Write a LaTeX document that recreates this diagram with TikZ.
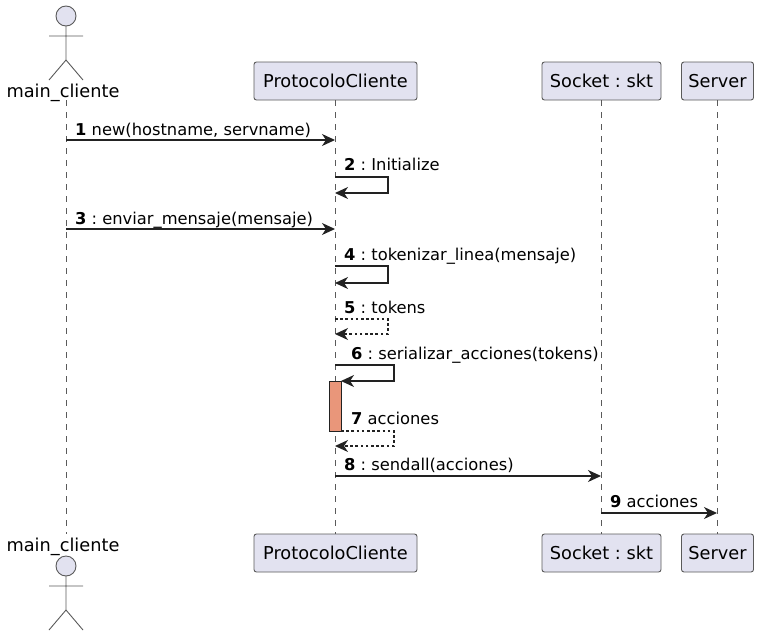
\documentclass[tikz,border=0pt]{standalone}
\usepackage{fontspec}
\setmainfont{DejaVu Sans}
\usetikzlibrary{arrows.meta}
\frenchspacing
\definecolor{partfill}{HTML}{E2E2F0}
\definecolor{partline}{HTML}{5A5A5A}
\definecolor{msgline}{HTML}{222222}
\definecolor{actfill}{HTML}{E9967A}
\tikzset{
  x=1pt,y=-1pt,
  part/.style={draw=partline,fill=partfill,rounded corners=2.5pt,line width=.9pt,minimum height=38pt,inner sep=0pt,font=\fontsize{17.75}{20}\selectfont,text=black},
  actorname/.style={inner sep=0pt,font=\fontsize{17.75}{20}\selectfont,text=black,anchor=base},
  actorline/.style={draw=partline,line width=.9pt},
  lifeline/.style={draw=partline,line width=.9pt,dash pattern=on 6pt off 6pt},
  msg/.style={draw=msgline,line width=1.15pt,-{Stealth[length=13pt,width=12pt,inset=4pt,color=msgline]}},
  ret/.style={msg,dash pattern=on 2.6pt off 2.6pt},
  lab/.style={inner sep=0pt,anchor=base west,font=\fontsize{16.3}{19}\selectfont,text=black},
  actbox/.style={draw=msgline,fill=actfill,line width=1pt,inner sep=0pt,minimum width=12pt,minimum height=50pt},
}
\newcommand{\numlab}[2]{{\bfseries #1}\ #2}
\newcommand{\stick}[2]{% x, head centre y
  \draw[actorline,fill=partfill] (#1,#2) circle[radius=10pt];
  \draw[actorline] (#1,#2+10) -- (#1,#2+44) (#1-17,#2+20) -- (#1+17,#2+20)
    (#1-17,#2+64) -- (#1,#2+44) -- (#1+17,#2+64);
}
\begin{document}
\begin{tikzpicture}
\useasboundingbox (0,0) rectangle (763,635);
\coordinate (mTop) at (66,100); \coordinate (mBot) at (66,534);
\node[part,minimum width=163pt] (pTop) at (335.5,81) {ProtocoloCliente};
\node[part,minimum width=163pt] (pBot) at (335.5,553) {ProtocoloCliente};
\node[part,minimum width=119pt] (sTop) at (601.5,81) {Socket : skt};
\node[part,minimum width=119pt] (sBot) at (601.5,553) {Socket : skt};
\node[part,minimum width=72pt] (vTop) at (717.5,81) {Server};
\node[part,minimum width=72pt] (vBot) at (717.5,553) {Server};
\draw[lifeline] (mTop) -- (mBot);
\draw[lifeline] (335,100) -- (335,534);
\draw[lifeline] (601,100) -- (601,534);
\draw[lifeline] (717,100) -- (717,534);
\stick{66}{16}
\node[actorname] (mName) at (63,97) {main\_cliente};
\node[actorname] (mNameB) at (63,551) {main\_cliente};
\stick{66}{566}
\node[actbox] (act) at (335,406) {};
\coordinate (a1) at (66,140);  \coordinate (b1) at (335,140);
\coordinate (a2) at (335,177); \coordinate (b2) at (335,193);
\coordinate (a3) at (66,229);  \coordinate (b3) at (335,229);
\coordinate (a4) at (335,266); \coordinate (b4) at (335,283);
\coordinate (a5) at (335,319); \coordinate (b5) at (335,334);
\coordinate (a6) at (335,365); \coordinate (b6) at (341,381);
\coordinate (a7) at (341,431); \coordinate (b7) at (335,446);
\coordinate (a8) at (335,476); \coordinate (b8) at (601,476);
\coordinate (a9) at (601,513); \coordinate (b9) at (717,513);
\draw[msg] (a1) -- (b1);
\draw[msg] (a2) -- (388,177) -- (388,193) -- (b2);
\draw[msg] (a3) -- (b3);
\draw[msg] (a4) -- (388,266) -- (388,283) -- (b4);
\draw[ret] (a5) -- (388,319) -- (388,334) -- (b5);
\draw[msg] (a6) -- (394,365) -- (394,381) -- (b6);
\draw[ret] (a7) -- (394,431) -- (394,446) -- (b7);
\draw[msg] (a8) -- (b8);
\draw[msg] (a9) -- (b9);
\node[lab] (l1) at (75,135) {\numlab{1}{new(hostname, servname)}};
\node[lab] (l2) at (344,170) {\numlab{2}{: Initialize}};
\node[lab] (l3) at (75,224) {\numlab{3}{: enviar\_mensaje(mensaje)}};
\node[lab] (l4) at (344,260) {\numlab{4}{: tokenizar\_linea(mensaje)}};
\node[lab] (l5) at (344,313) {\numlab{5}{: tokens}};
\node[lab] (l6) at (351,359) {\numlab{6}{: serializar\_acciones(tokens)}};
\node[lab] (l7) at (351,424) {\numlab{7}{acciones}};
\node[lab] (l8) at (344,470) {\numlab{8}{: sendall(acciones)}};
\node[lab] (l9) at (610,507) {\numlab{9}{acciones}};
\end{tikzpicture}
\end{document}
